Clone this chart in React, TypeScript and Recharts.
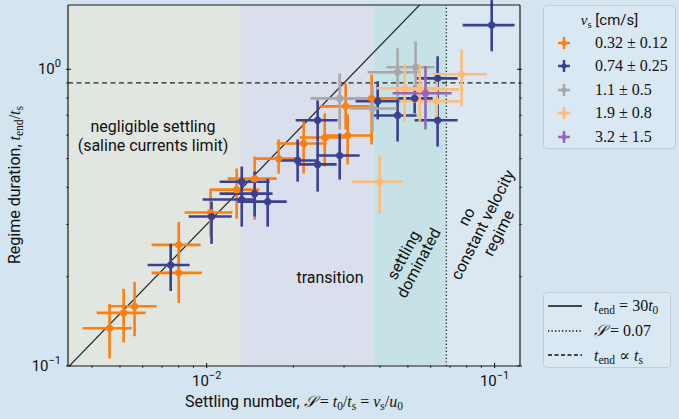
import React from 'react';
import { ComposedChart, Scatter, ErrorBar, XAxis, YAxis, ReferenceArea, ReferenceLine } from 'recharts';

// axis ranges and ticks (log-log)
const X_MIN = 0.0033;
const X_MAX = 0.1225;
const Y_MIN = 0.1;
const Y_MAX = 1.647;
const X_TICKS = [0.004, 0.005, 0.006, 0.007, 0.008, 0.009, 0.01, 0.02, 0.03, 0.04, 0.05, 0.06, 0.07, 0.08, 0.09, 0.1];
const X_MAJOR = [0.01, 0.1];
const Y_TICKS = [0.1, 0.2, 0.3, 0.4, 0.5, 0.6, 0.7, 0.8, 0.9, 1];
const Y_MAJOR = [0.1, 1];

// regime boundaries in S
const S_NEGLIGIBLE = 0.01315;
const S_TRANSITION = 0.0381;
const S_CRIT = 0.068;
const T_PLATEAU = 0.9;
const LINE_COEF = 30;
const LINE_S = [0.003, 0.07];

// rows: [S, S_low, S_high, tend/ts, low, high]
const ORANGE = [
  [0.0046, 0.00371, 0.00549, 0.134, 0.106, 0.162],
  [0.00515, 0.00415, 0.00614, 0.151, 0.12, 0.182],
  [0.00562, 0.0046, 0.0067, 0.159, 0.126, 0.192],
  [0.008, 0.00644, 0.00953, 0.256, 0.211, 0.306],
  [0.008, 0.00644, 0.00962, 0.206, 0.163, 0.246],
  [0.01032, 0.00839, 0.0123, 0.329, 0.273, 0.396],
  [0.01271, 0.01032, 0.01528, 0.393, 0.314, 0.463],
  [0.01468, 0.01183, 0.0175, 0.428, 0.311, 0.508],
  [0.01778, 0.01468, 0.02104, 0.5, 0.445, 0.58],
  [0.02172, 0.0175, 0.02611, 0.562, 0.445, 0.678],
  [0.0257, 0.02104, 0.03062, 0.589, 0.47, 0.71],
  [0.03088, 0.0257, 0.0374, 0.598, 0.478, 0.705],
  [0.03039, 0.02467, 0.03681, 0.75, 0.627, 0.897],
  [0.0374, 0.03015, 0.04677, 0.798, 0.558, 0.962],
];
const BLUE = [
  [0.0075, 0.00624, 0.00873, 0.219, 0.179, 0.258],
  [0.0104, 0.00866, 0.01222, 0.319, 0.258, 0.358],
  [0.01324, 0.01109, 0.01655, 0.418, 0.36, 0.47],
  [0.01324, 0.00968, 0.01468, 0.364, 0.295, 0.418],
  [0.01468, 0.01109, 0.01694, 0.381, 0.319, 0.452],
  [0.01629, 0.01282, 0.01897, 0.358, 0.295, 0.428],
  [0.0207, 0.0175, 0.02429, 0.493, 0.418, 0.58],
  [0.02429, 0.02037, 0.02849, 0.673, 0.571, 0.786],
  [0.02429, 0.02051, 0.02827, 0.478, 0.387, 0.571],
  [0.02897, 0.0241, 0.03398, 0.512, 0.425, 0.608],
  [0.03926, 0.03291, 0.04677, 0.78, 0.678, 0.911],
  [0.04603, 0.03802, 0.05358, 0.699, 0.571, 0.786],
  [0.05277, 0.04571, 0.06095, 0.798, 0.71, 0.88],
  [0.06339, 0.05358, 0.07441, 0.932, 0.78, 1.106],
  [0.06339, 0.05277, 0.07441, 0.673, 0.549, 0.81],
  [0.0977, 0.07745, 0.1173, 1.409, 1.15, 1.75],
];
const GRAY = [
  [0.02897, 0.02297, 0.03681, 0.798, 0.627, 0.969],
  [0.03767, 0.03139, 0.04571, 0.738, 0.617, 0.88],
  [0.04603, 0.03622, 0.05495, 0.977, 0.798, 1.177],
  [0.05316, 0.04217, 0.06192, 1.016, 0.843, 1.243],
];
const LIGHT_ORANGE = [
  [0.0487, 0.03894, 0.06442, 0.863, 0.667, 1.04],
  [0.05495, 0.04497, 0.07551, 0.856, 0.667, 1.04],
  [0.0629, 0.04677, 0.07551, 0.78, 0.678, 0.911],
  [0.07679, 0.06095, 0.09376, 0.962, 0.75, 1.168],
  [0.03988, 0.03187, 0.04794, 0.418, 0.326, 0.512],
];
const PURPLE = [
  [0.05754, 0.04425, 0.07091, 0.83, 0.627, 1.024],
];

const SERIES = [
  { name: 'orange', label: ['0.32', '0.12'], color: '#ff7f0e', rows: ORANGE },
  { name: 'blue', label: ['0.74', '0.25'], color: '#3b4190', rows: BLUE },
  { name: 'gray', label: ['1.1', '0.5'], color: '#a8a8a8', rows: GRAY },
  { name: 'lorange', label: ['1.9', '0.8'], color: '#ffbb78', rows: LIGHT_ORANGE },
  { name: 'purple', label: ['3.2', '1.5'], color: '#9467bd', rows: PURPLE },
];

const toPoints = (rows: number[][]) =>
  rows.map(([s, slo, shi, r, rlo, rhi]) => ({
    s,
    r,
    ex: [s - slo, shi - s],
    ey: [r - rlo, rhi - r],
  }));

const SANS = 'Roboto, "Noto Sans", sans-serif';
const SERIF = '"Liberation Serif", "DejaVu Serif", serif';
const AXIS = '#1a1a1a';
const FS = 16;

const isMajor = (v: number, majors: number[]) => majors.some(m => Math.abs(m - v) < 1e-12);
const expText = (v: number) => {
  const e = Math.round(Math.log10(v));
  return e < 0 ? `\u2212${-e}` : `${e}`;
};

const BottomTick = ({ x, y, payload }: any) => {
  const major = isMajor(payload.value, X_MAJOR);
  return (
    <g>
      <line x1={x} x2={x} y1={y} y2={y - (major ? 5 : 2.8)} stroke={AXIS} strokeWidth={major ? 1.1 : 0.8} />
      {major && (
        <text x={x} y={y + 18} textAnchor="middle" fontFamily={SANS} fontSize={15} fill="#111">
          10<tspan dy={-7} fontSize={11}>{expText(payload.value)}</tspan>
        </text>
      )}
    </g>
  );
};

const TopTick = ({ x, y, payload }: any) => {
  const major = isMajor(payload.value, X_MAJOR);
  return <line x1={x} x2={x} y1={y} y2={y + (major ? 5 : 2.8)} stroke={AXIS} strokeWidth={major ? 1.1 : 0.8} />;
};

const LeftTick = ({ x, y, payload }: any) => {
  const major = isMajor(payload.value, Y_MAJOR);
  return (
    <g>
      <line x1={x} x2={x + (major ? 5 : 2.8)} y1={y} y2={y} stroke={AXIS} strokeWidth={major ? 1.1 : 0.8} />
      {major && (
        <text x={x - 5} y={y + 5} textAnchor="end" fontFamily={SANS} fontSize={15} fill="#111">
          10<tspan dy={-7} fontSize={11}>{expText(payload.value)}</tspan>
        </text>
      )}
    </g>
  );
};

const RightTick = ({ x, y, payload }: any) => {
  const major = isMajor(payload.value, Y_MAJOR);
  return <line x1={x} x2={x - (major ? 5 : 2.8)} y1={y} y2={y} stroke={AXIS} strokeWidth={major ? 1.1 : 0.8} />;
};

const dot = (color: string) => (props: any) => <circle cx={props.cx} cy={props.cy} r={3.6} fill={color} />;

const It = ({ children }: any) => <span style={{ fontFamily: SERIF, fontStyle: 'italic' }}>{children}</span>;
const Rm = ({ children }: any) => <span style={{ fontFamily: SERIF }}>{children}</span>;
const Sub = ({ children }: any) => (
  <sub style={{ fontFamily: SERIF, fontStyle: 'normal', fontSize: '0.72em', verticalAlign: '-0.3em', lineHeight: 0 }}>{children}</sub>
);

const Cross = ({ color }: { color: string }) => (
  <svg width={14} height={14} style={{ display: 'block' }}>
    <line x1={1} x2={13} y1={7} y2={7} stroke={color} strokeWidth={2.5} />
    <line x1={7} x2={7} y1={1} y2={13} stroke={color} strokeWidth={2.5} />
    <circle cx={7} cy={7} r={2.5} fill={color} />
  </svg>
);

const rotated = (left: number, top: number, deg: number, lh: number): React.CSSProperties => ({
  position: 'absolute',
  left,
  top,
  transform: `translate(-50%, -50%) rotate(${deg}deg)`,
  textAlign: 'center',
  whiteSpace: 'nowrap',
  fontFamily: SANS,
  fontSize: FS,
  lineHeight: `${lh}px`,
  color: '#111',
});

const legendBox: React.CSSProperties = {
  position: 'absolute',
  left: 543,
  border: '1px solid #c3cbd3',
  borderRadius: 4,
  background: '#dae8f3',
  boxSizing: 'border-box',
};

export default function App() {
  return (
    <div style={{ position: 'absolute', left: 0, top: 0, width: 679, height: 419, background: '#d4e4f0', overflow: 'hidden' }}>
      <ComposedChart width={679} height={419} margin={{ top: 4, right: 158, bottom: 52, left: 67 }}>
        <XAxis
          dataKey="s"
          type="number"
          scale="log"
          domain={[X_MIN, X_MAX]}
          allowDataOverflow
          ticks={X_TICKS}
          interval={0}
          tick={BottomTick}
          tickLine={false}
          tickSize={0}
          height={1}
          axisLine={{ stroke: AXIS, strokeWidth: 1.2 }}
        />
        <XAxis
          xAxisId="top"
          orientation="top"
          type="number"
          scale="log"
          domain={[X_MIN, X_MAX]}
          allowDataOverflow
          ticks={X_TICKS}
          interval={0}
          tick={TopTick}
          tickLine={false}
          tickSize={0}
          height={1}
          axisLine={{ stroke: AXIS, strokeWidth: 1.2 }}
        />
        <YAxis
          dataKey="r"
          type="number"
          scale="log"
          domain={[Y_MIN, Y_MAX]}
          allowDataOverflow
          ticks={Y_TICKS}
          interval={0}
          tick={LeftTick}
          tickLine={false}
          tickSize={0}
          width={1}
          axisLine={{ stroke: AXIS, strokeWidth: 1.2 }}
        />
        <YAxis
          yAxisId="right"
          orientation="right"
          type="number"
          scale="log"
          domain={[Y_MIN, Y_MAX]}
          allowDataOverflow
          ticks={Y_TICKS}
          interval={0}
          tick={RightTick}
          tickLine={false}
          tickSize={0}
          width={1}
          axisLine={{ stroke: AXIS, strokeWidth: 1.2 }}
        />
        <ReferenceArea x1={X_MIN} x2={S_NEGLIGIBLE} fill="#e2e6e1" fillOpacity={1} stroke="none" />
        <ReferenceArea x1={S_NEGLIGIBLE} x2={S_TRANSITION} fill="#dadfed" fillOpacity={1} stroke="none" />
        <ReferenceArea x1={S_TRANSITION} x2={S_CRIT} fill="#c7e2e7" fillOpacity={1} stroke="none" />
        <ReferenceArea x1={S_CRIT} x2={X_MAX} fill="#dbe8f2" fillOpacity={1} stroke="none" />
        <ReferenceLine
          segment={[
            { x: LINE_S[0], y: LINE_COEF * LINE_S[0] },
            { x: LINE_S[1], y: LINE_COEF * LINE_S[1] },
          ]}
          stroke="#222"
          strokeWidth={1.2}
          ifOverflow="hidden"
        />
        <ReferenceLine y={T_PLATEAU} stroke="#222" strokeWidth={1.3} strokeDasharray="5 3.5" />
        <ReferenceLine x={S_CRIT} stroke="#222" strokeWidth={1.3} strokeDasharray="1.3 2.2" />
        {SERIES.map(ser => (
          <Scatter
            key={ser.name}
            data={toPoints(ser.rows)}
            fill={ser.color}
            shape={dot(ser.color)}
            isAnimationActive={false}
          >
            <ErrorBar dataKey="ex" direction="x" stroke={ser.color} strokeWidth={2.6} width={0} />
            <ErrorBar dataKey="ey" direction="y" stroke={ser.color} strokeWidth={2.6} width={0} />
          </Scatter>
        ))}
      </ComposedChart>

      {/* region labels */}
      <div style={{ ...rotated(153, 136, 0, 19) }}>
        negligible settling
        <br />
        (saline currents limit)
      </div>
      <div style={{ ...rotated(330, 277, 0, 19) }}>transition</div>
      <div style={{ ...rotated(411, 259, -62, 17) }}>
        settling
        <br />
        dominated
      </div>
      <div style={{ ...rotated(483, 225, -63, 18) }}>
        no
        <br />
        constant velocity
        <br />
        regime
      </div>

      {/* axis titles */}
      <div style={{ ...rotated(294, 401, 0, 17) }}>
        Settling number, <It>𝒮</It> <Rm>=</Rm> <It>t</It>
        <Sub>0</Sub>
        <Rm>/</Rm>
        <It>t</It>
        <Sub>s</Sub> <Rm>=</Rm> <It>v</It>
        <Sub>s</Sub>
        <Rm>/</Rm>
        <It>u</It>
        <Sub>0</Sub>
      </div>
      <div style={{ ...rotated(14, 185, -90, 19) }}>
        Regime duration, <It>t</It>
        <Sub>end</Sub>
        <Rm>/</Rm>
        <It>t</It>
        <Sub>s</Sub>
      </div>

      {/* series legend */}
      <div style={{ ...legendBox, top: 5, width: 133, height: 144 }}>
        <div style={{ position: 'absolute', left: 0, width: 131, top: 5, textAlign: 'center', fontFamily: SANS, fontSize: 15, color: '#111' }}>
          <It>v</It>
          <Sub>s</Sub> [cm/s]
        </div>
        {SERIES.map((ser, i) => (
          <div key={ser.name} style={{ position: 'absolute', left: 13, top: 30 + i * 23.4, display: 'flex', alignItems: 'center', height: 14 }}>
            <Cross color={ser.color} />
            <span style={{ marginLeft: 24, fontFamily: SERIF, fontSize: 16, color: '#111', whiteSpace: 'nowrap' }}>
              {ser.label[0]} ± {ser.label[1]}
            </span>
          </div>
        ))}
      </div>

      {/* line legend */}
      <div style={{ ...legendBox, top: 292, width: 128, height: 76 }}>
        {[
          { dash: undefined, text: <><It>t</It><Sub>end</Sub> <Rm>=</Rm> <Rm>30</Rm><It>t</It><Sub>0</Sub></> },
          { dash: '1.3 2.2', text: <><It>𝒮</It> <Rm>=</Rm> <Rm>0.07</Rm></> },
          { dash: '4 2.5', text: <><It>t</It><Sub>end</Sub> <Rm>∝</Rm> <It>t</It><Sub>s</Sub></> },
        ].map((row, i) => (
          <div key={i} style={{ position: 'absolute', left: 4, top: 6 + i * 24.5, display: 'flex', alignItems: 'center', height: 14 }}>
            <svg width={34} height={6} style={{ display: 'block' }}>
              <line x1={0} x2={34} y1={3} y2={3} stroke="#111" strokeWidth={1.5} strokeDasharray={row.dash} />
            </svg>
            <span style={{ marginLeft: 12, fontSize: 16, color: '#111', whiteSpace: 'nowrap' }}>{row.text}</span>
          </div>
        ))}
      </div>
    </div>
  );
}
